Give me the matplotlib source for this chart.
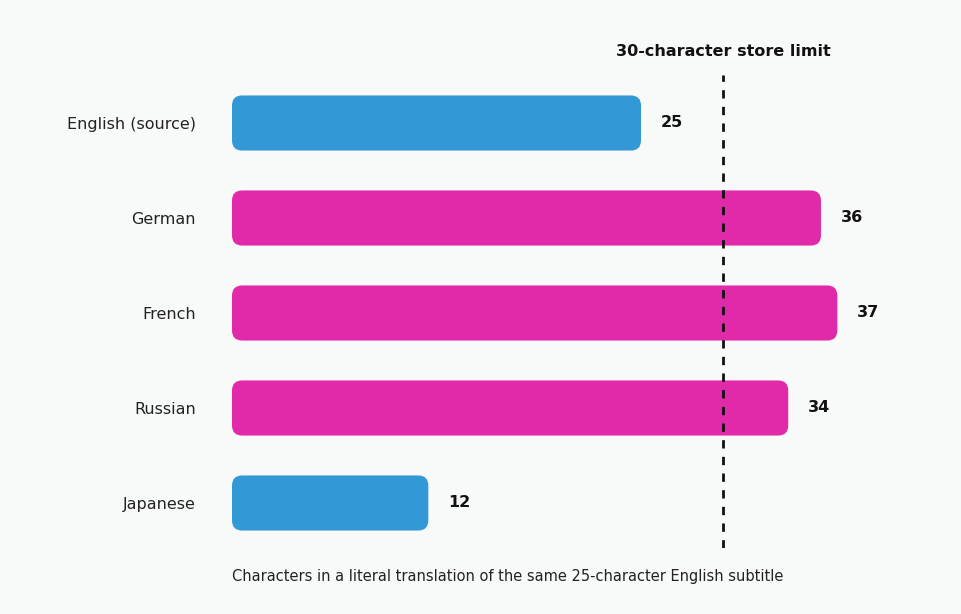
import matplotlib
matplotlib.use("Agg")
import matplotlib.pyplot as plt
from matplotlib.patches import FancyBboxPatch

languages = ["English (source)", "German", "French", "Russian", "Japanese"]
chars = [25, 36, 37, 34, 12]
over_limit = [False, True, True, True, False]
limit = 30

BLUE = "#3399d6"
PINK = "#e12aa9"
BG = "#f8f9f9"

fig = plt.figure(figsize=(9.62, 6.14), dpi=100, facecolor=BG)
ax = fig.add_axes([232/962, (614-548)/614, (962-232)/962, (548-75)/614])
ax.set_facecolor(BG)
ax.set_xlim(0, 730/16.36)
ax.set_ylim(4 + 45/95, -48/95)

bars = ax.barh(range(len(languages)), chars, height=0.58,
               color=[PINK if o else BLUE for o in over_limit])
for b, c in zip(bars, bars.patches if hasattr(bars, "patches") else bars):
    pass
for b in list(bars):
    x, y = b.get_x(), b.get_y()
    w, h = b.get_width(), b.get_height()
    col = b.get_facecolor()
    b.remove()
    ax.add_patch(FancyBboxPatch((x, y), w, h,
                                boxstyle="round,pad=0,rounding_size=0.62",
                                mutation_aspect=0.172, fc=col, ec="none", zorder=2))

for i, v in enumerate(chars):
    ax.text(v + 1.2, i, str(v), va="center", ha="left", fontsize=11.5,
            fontweight="bold", color="#111111")

ax.axvline(limit, color="#111111", lw=2, ls=(0, (3, 3)), zorder=3)

ax.set_yticks(range(len(languages)))
ax.set_yticklabels(languages, fontsize=11.5, color="#222222")
ax.tick_params(axis="y", length=0, pad=26)
ax.set_xticks([])
for s in ax.spines.values():
    s.set_visible(False)

fig.text(723/962, 1 - 52/614, "30-character store limit", ha="center", va="center",
         fontsize=11.5, fontweight="bold", color="#111111")
fig.text(232/962, 1 - 577/614,
         "Characters in a literal translation of the same 25-character English subtitle",
         ha="left", va="center", fontsize=10.5, color="#222222")

fig.savefig("out.png", dpi=100, facecolor=BG)
